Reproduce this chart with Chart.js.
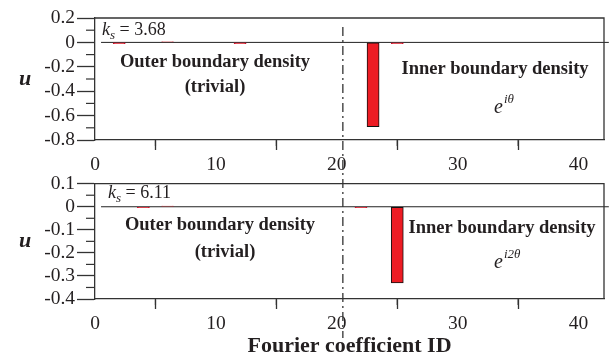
<!DOCTYPE html>
<html>
<head>
<meta charset="utf-8">
<script src="https://cdn.jsdelivr.net/npm/chart.js@4.4.1/dist/chart.umd.min.js"></script>
<style>
  html, body { margin: 0; padding: 0; background: #fff; }
  #wrap { position: relative; width: 611px; height: 361px; }
  canvas { position: absolute; left: 0; }
  #top { top: 0; }
  #bottom { top: 170px; }
</style>
</head>
<body>
<div id="wrap">
  <canvas id="top" width="611" height="180"></canvas>
  <canvas id="bottom" width="611" height="191"></canvas>
</div>
<script>
// Fourier coefficient IDs 1..42
const ids = [1, 2, 3, 4, 5, 6, 7, 8, 9, 10, 11, 12, 13, 14, 15, 16, 17, 18, 19, 20, 21,
             22, 23, 24, 25, 26, 27, 28, 29, 30, 31, 32, 33, 34, 35, 36, 37, 38, 39, 40, 41, 42];
// ks = 3.68
const uTop = [0, -0.01, 0, 0, 0, 0.005, 0, 0, 0, 0, 0, -0.01, 0, 0, 0, 0, 0, 0, 0, 0, 0,
              0, -0.69, 0, -0.01, 0, 0, 0, 0, 0, 0, 0, 0, 0, 0, 0, 0, 0, 0, 0, 0, 0];
// ks = 6.11
const uBottom = [0, 0, 0, -0.004, 0, 0.003, 0, 0, 0, 0, 0, 0, 0, 0, 0, 0, 0, 0, 0, 0, 0,
                 -0.004, 0, 0, -0.33, 0, 0, 0, 0, 0, 0, 0, 0, 0, 0, 0, 0, 0, 0, 0, 0, 0];
const splitId = 20.5; // outer | inner boundary
const xTicks = [0, 10, 20, 30, 40];
const yTicksTop = [0.2, 0, -0.2, -0.4, -0.6, -0.8];
const yTicksBottom = [0.1, 0, -0.1, -0.2, -0.3, -0.4];

const ink = '#231f20';
const serif = '"Liberation Serif", "Times New Roman", serif';

const frame = {
  id: 'frame',
  afterDraw(chart, args, opts) {
    const { ctx, chartArea: a, scales } = chart;
    ctx.save();
    ctx.strokeStyle = '#333';
    ctx.lineWidth = 1.3;
    // top and right edges of the box
    ctx.beginPath();
    ctx.moveTo(a.left, a.top);
    ctx.lineTo(a.right, a.top);
    ctx.lineTo(a.right, a.bottom);
    ctx.stroke();
    // minor ticks
    ctx.lineWidth = 1.2;
    const xs = scales.x, ys = scales.y;
    for (let i = 0; i < opts.yt.length - 1; i++) {
      const p = ys.getPixelForValue((opts.yt[i] + opts.yt[i + 1]) / 2);
      ctx.beginPath(); ctx.moveTo(a.left - 9, p); ctx.lineTo(a.left, p); ctx.stroke();
    }
    for (let i = 0; i < xTicks.length - 1; i++) {
      const p = xs.getPixelForValue((xTicks[i] + xTicks[i + 1]) / 2);
      ctx.beginPath(); ctx.moveTo(p, a.bottom); ctx.lineTo(p, a.bottom + 6); ctx.stroke();
    }
    // dash-dot separator
    const sx = xs.getPixelForValue(splitId);
    ctx.setLineDash([9, 4, 2, 4]);
    ctx.lineDashOffset = opts.dashOffset;
    ctx.lineWidth = 1.3;
    ctx.beginPath(); ctx.moveTo(sx, opts.sepFrom); ctx.lineTo(sx, opts.sepTo); ctx.stroke();
    ctx.setLineDash([]);

    // texts
    ctx.fillStyle = ink;
    ctx.textBaseline = 'alphabetic';
    ctx.textAlign = 'left';
    ctx.font = 'italic 18px ' + serif;
    ctx.fillText('k', opts.ks.x, opts.ks.y);
    let w = ctx.measureText('k').width;
    ctx.font = 'italic 13px ' + serif;
    ctx.fillText('s', opts.ks.x + w, opts.ks.y + 4);
    w += ctx.measureText('s').width;
    ctx.font = '18px ' + serif;
    ctx.fillText(' = ' + opts.ksValue, opts.ks.x + w, opts.ks.y);

    ctx.textAlign = 'center';
    ctx.font = 'bold 18.5px ' + serif;
    ctx.fillText('Outer boundary density', opts.outer.x, opts.outer.y);
    ctx.fillText('(trivial)', opts.trivial.x, opts.trivial.y);
    ctx.fillText('Inner boundary density', opts.inner.x, opts.inner.y);

    ctx.textAlign = 'left';
    ctx.font = 'italic 20px ' + serif;
    ctx.fillText('e', opts.e.x, opts.e.y);
    const ew = ctx.measureText('e').width;
    ctx.font = 'italic 13px ' + serif;
    ctx.fillText(opts.mode, opts.e.x + ew + 1, opts.e.y - 10);

    // y axis label, upright
    ctx.textAlign = 'center';
    ctx.textBaseline = 'middle';
    ctx.font = 'bold italic 22px ' + serif;
    ctx.fillText('u', 25, (a.top + a.bottom) / 2);
    ctx.restore();
  }
};

function makeChart(el, vals, yt, pad, xHeight, withTitle, notes) {
  const data = ids.map((id, i) => ({ x: id, y: vals[i] }));
  return new Chart(el, {
    type: 'bar',
    data: {
      datasets: [
        {
          type: 'line',
          data: [{ x: ids[0] - 0.5, y: 0 }, { x: ids[ids.length - 1] + 0.5, y: 0 }],
          borderColor: '#222',
          borderWidth: 1,
          pointRadius: 0,
          clip: false,
          order: 2
        },
        {
          data: data,
          backgroundColor: '#ed1c24',
          borderColor: c => (c.raw && Math.abs(c.raw.y) > 0.05 ? '#111' : '#c8102e'),
          borderWidth: 1,
          borderSkipped: false,
          categoryPercentage: 1,
          barPercentage: 1,
          order: 1
        }
      ]
    },
    options: {
      responsive: false,
      animation: false,
      layout: { padding: { top: pad, right: 7, left: 0, bottom: 0 } },
      plugins: {
        legend: { display: false },
        tooltip: { enabled: false },
        frame: Object.assign({ yt: yt }, notes)
      },
      scales: {
        x: {
          type: 'linear',
          min: 0,
          max: 42.1,
          offset: false,
          afterBuildTicks: s => { s.ticks = xTicks.map(v => ({ value: v })); },
          afterFit: s => { s.height = xHeight; },
          grid: { drawOnChartArea: false, tickLength: 10, tickColor: '#333', tickWidth: 1.3 },
          border: { color: '#333', width: 1.3 },
          ticks: {
            padding: 3,
            maxRotation: 0,
            autoSkip: false,
            color: ink,
            font: { family: serif, size: 19.5 }
          },
          title: {
            display: withTitle,
            text: 'Fourier coefficient ID',
            color: ink,
            font: { family: serif, size: 22, weight: 'bold' },
            padding: { top: 0, bottom: 1 }
          }
        },
        y: {
          min: yt[yt.length - 1],
          max: yt[0],
          afterBuildTicks: s => { s.ticks = yt.slice().reverse().map(v => ({ value: v })); },
          afterFit: s => { s.width = 95; },
          grid: { drawOnChartArea: false, tickLength: 18, tickColor: '#333', tickWidth: 1.3 },
          border: { color: '#333', width: 1.3 },
          ticks: {
            padding: 2,
            autoSkip: false,
            color: ink,
            font: { family: serif, size: 19.5 },
            callback: v => String(+v.toFixed(2))
          }
        }
      }
    },
    plugins: [frame]
  });
}

makeChart(document.getElementById('top'), uTop, yTicksTop, 18, 40, false, {
  ksValue: '3.68', mode: 'iθ',
  ks: { x: 102, y: 35 },
  outer: { x: 215, y: 67 },
  trivial: { x: 215, y: 92 },
  inner: { x: 495, y: 74 },
  e: { x: 494, y: 113 },
  sepFrom: 27, sepTo: 180, dashOffset: 0
});

makeChart(document.getElementById('bottom'), uBottom, yTicksBottom, 10, 62, true, {
  ksValue: '6.11', mode: 'i2θ',
  ks: { x: 108, y: 28 },
  outer: { x: 220, y: 60 },
  trivial: { x: 225, y: 87 },
  inner: { x: 502, y: 63 },
  e: { x: 494, y: 98 },
  sepFrom: 10, sepTo: 168, dashOffset: 153
});
</script>
</body>
</html>
